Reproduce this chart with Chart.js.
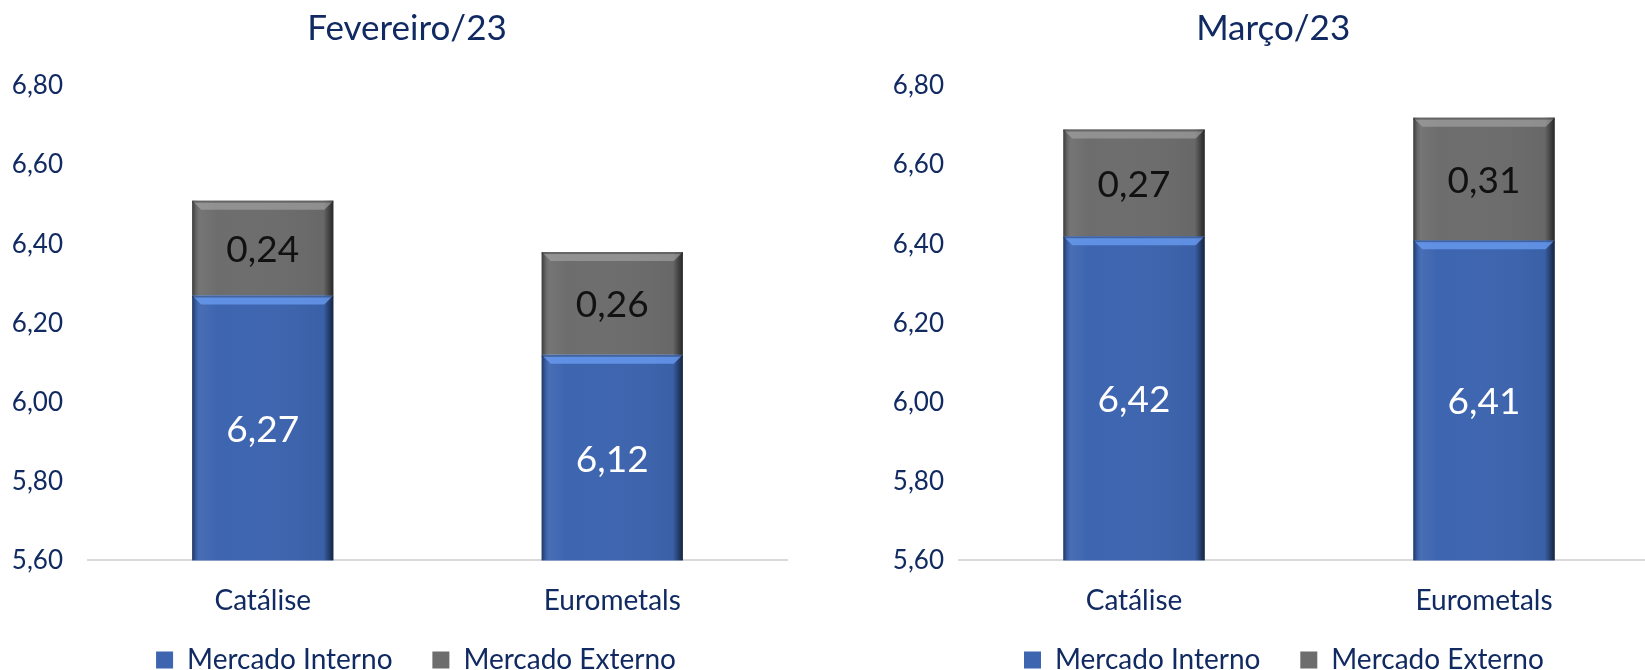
<!DOCTYPE html>
<html>
<head>
<meta charset="utf-8">
<script src="https://cdn.jsdelivr.net/npm/chart.js@4/dist/chart.umd.min.js"></script>
<style>
    html, body { margin: 0; padding: 0; background: #fff; overflow: hidden; width: 1645px; height: 670px; }
    .wrap { position: absolute; top: 0; height: 670px; }
    #left { left: 0; width: 822px; }
    #right { left: 822px; width: 837px; }
</style>
</head>
<body>
<div class="wrap" id="left"><canvas id="chart-fev"></canvas></div>
<div class="wrap" id="right"><canvas id="chart-mar"></canvas></div>
<script>
// Data
const categories = ['Catálise', 'Eurometals'];
const seriesNames = ['Mercado Interno', 'Mercado Externo'];
const fevInterno = [6.27, 6.12];
const fevExterno = [0.24, 0.26];
const marInterno = [6.42, 6.41];
const marExterno = [0.27, 0.31];
const yTicks = [5.6, 5.8, 6.0, 6.2, 6.4, 6.6, 6.8];

// Theme
const navy = '#112a62';
const fontFamily = 'Lato, "Open Sans", sans-serif';
const blue = '#3d65b0';
const gray = '#6d6d6d';
const fmt = (v) => v.toFixed(2).replace('.', ',');
const sp = (n) => ' '.repeat(n);

// Bevel look + value labels drawn on top of the bars
const bevelPlugin = {
    id: 'bevel',
    afterDatasetsDraw(chart) {
        const ctx = chart.ctx;
        const area = chart.chartArea;
        ctx.save();
        ctx.beginPath();
        ctx.rect(area.left, area.top, area.right - area.left, area.bottom - area.top);
        ctx.clip();
        chart.data.datasets.forEach((ds, di) => {
            const meta = chart.getDatasetMeta(di);
            meta.data.forEach((bar) => {
                const left = bar.x - bar.width / 2;
                const right = bar.x + bar.width / 2;
                const top = bar.y;
                const bottom = Math.min(bar.base, area.bottom);
                const h = bottom - top;
                // side shading
                const g = ctx.createLinearGradient(left, 0, right, 0);
                g.addColorStop(0, 'rgba(0,0,0,0.45)');
                g.addColorStop(0.03, 'rgba(0,0,0,0.05)');
                g.addColorStop(0.05, 'rgba(255,255,255,0.06)');
                g.addColorStop(0.18, 'rgba(255,255,255,0.0)');
                g.addColorStop(0.93, 'rgba(0,0,0,0.05)');
                g.addColorStop(1, 'rgba(0,0,0,0.65)');
                ctx.fillStyle = g;
                ctx.fillRect(left, top, right - left, h);
                // top highlight strip
                const b = 9;
                ctx.beginPath();
                ctx.moveTo(left, top);
                ctx.lineTo(right, top);
                ctx.lineTo(right - b, top + b);
                ctx.lineTo(left + b, top + b);
                ctx.closePath();
                ctx.fillStyle = di === 0 ? 'rgba(105,155,240,0.8)' : 'rgba(165,165,165,0.65)';
                ctx.fill();
                // thin dark line at the very top
                ctx.fillStyle = 'rgba(0,0,0,0.3)';
                ctx.fillRect(left, top, right - left, 2);
            });
        });
        ctx.restore();

        // value labels
        ctx.save();
        ctx.font = '37px ' + fontFamily;
        ctx.textAlign = 'center';
        ctx.textBaseline = 'middle';
        chart.data.datasets.forEach((ds, di) => {
            const meta = chart.getDatasetMeta(di);
            meta.data.forEach((bar, i) => {
                const top = Math.max(bar.y, area.top);
                const bottom = Math.min(bar.base, area.bottom);
                ctx.fillStyle = di === 0 ? '#ffffff' : '#111111';
                ctx.fillText(fmt(ds.data[i]), bar.x, (top + bottom) / 2 + 2);
            });
        });
        ctx.restore();
    }
};

function makeChart(canvasId, title, interno, externo, opts) {
    const canvas = document.getElementById(canvasId);
    return new Chart(canvas.getContext('2d'), {
        type: 'bar',
        data: {
            labels: categories,
            datasets: [
                {
                    label: seriesNames[0],
                    data: interno,
                    backgroundColor: blue,
                    barPercentage: 0.404,
                    categoryPercentage: 1
                },
                {
                    label: seriesNames[1],
                    data: externo,
                    backgroundColor: gray,
                    barPercentage: 0.404,
                    categoryPercentage: 1
                }
            ]
        },
        options: {
            responsive: true,
            maintainAspectRatio: false,
            animation: false,
            layout: { padding: { left: 0, right: opts.padRight, bottom: -14 } },
            plugins: {
                title: {
                    display: true,
                    text: title,
                    color: navy,
                    fullSize: opts.titleFull,
                    font: { family: fontFamily, size: 35, weight: 'normal' },
                    padding: { top: 8, bottom: 36 },
                    align: 'center'
                },
                legend: {
                    display: true,
                    position: 'bottom',
                    fullSize: false,
                    labels: {
                        color: navy,
                        font: { family: fontFamily, size: 28 },
                        boxWidth: 17,
                        boxHeight: 17,
                        padding: 4,
                        generateLabels: (chart) => {
                            const items = Chart.defaults.plugins.legend.labels.generateLabels(chart);
                            items[0].text += sp(5);
                            items[1].text += sp(opts.legendTrail);
                            return items;
                        }
                    }
                },
                tooltip: { enabled: false }
            },
            scales: {
                x: {
                    stacked: true,
                    grid: { display: false, drawTicks: false },
                    border: { display: true, color: '#d9d9d9', width: 2 },
                    ticks: {
                        color: navy,
                        font: { family: fontFamily, size: 28 },
                        padding: 24
                    }
                },
                y: {
                    stacked: true,
                    min: yTicks[0],
                    max: yTicks[yTicks.length - 1],
                    afterBuildTicks: (scale) => {
                        scale.ticks = yTicks.map(v => ({ value: v }));
                    },
                    afterFit: (scale) => { scale.width = opts.yWidth; },
                    grid: { display: false, drawTicks: false },
                    border: { display: false },
                    ticks: {
                        color: navy,
                        font: { family: fontFamily, size: 26 },
                        padding: opts.yPad,
                        callback: (v) => fmt(v)
                    }
                }
            }
        },
        plugins: [bevelPlugin]
    });
}

makeChart('chart-fev', sp(3) + 'Fevereiro/23', fevInterno, fevExterno,
    { yWidth: 88, yPad: 25, padRight: 35, titleFull: true, legendTrail: 6 });
makeChart('chart-mar', 'Março/23' + sp(8), marInterno, marExterno,
    { yWidth: 137, yPad: 15, padRight: 0, titleFull: false, legendTrail: 7 });
</script>
</body>
</html>
